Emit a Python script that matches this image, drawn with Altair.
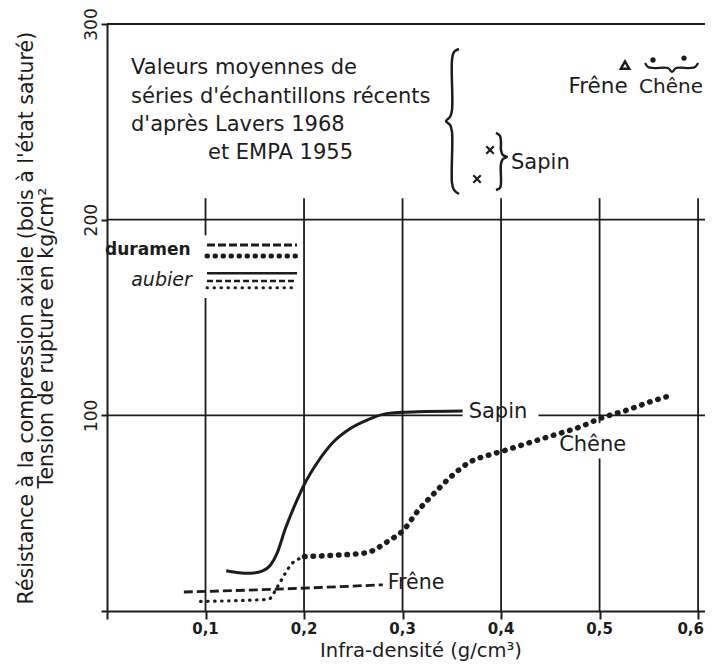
import altair as alt
import pandas as pd

FONT = "DejaVu Sans"
INK = "#1c1c1c"

# ---------------- data ----------------
# Sapin (solid)
sapin_x = [0.121, 0.134, 0.146, 0.158, 0.166, 0.173, 0.181, 0.190, 0.200, 0.213, 0.230, 0.247, 0.264, 0.285, 0.315, 0.361]
sapin_y = [20.6, 19.6, 19.3, 20.5, 23.5, 30.0, 42.0, 53.3, 64.4, 75.5, 86.5, 93.3, 97.6, 101.0, 101.8, 102.2]

# Frene (dashed)
frene_x = [0.078, 0.169, 0.280]
frene_y = [9.7, 11.1, 13.4]

# Chene aubier (small dots)
chene_a_x = [0.095, 0.130, 0.164, 0.173, 0.181, 0.188, 0.196]
chene_a_y = [4.9, 5.3, 6.0, 12.4, 19.3, 24.4, 26.9]

# Chene duramen (big dots)
chene_d_x = [0.2005, 0.230, 0.264, 0.274, 0.2845, 0.301, 0.315, 0.332, 0.349, 0.369, 0.3876,
             0.3995, 0.4266, 0.4536, 0.4807, 0.501, 0.528, 0.5518, 0.5704]
chene_d_y = [27.8, 28.5, 29.8, 32.0, 35.4, 41.4, 50.8, 60.1, 68.6, 76.3, 79.7,
             81.4, 85.7, 89.9, 94.2, 98.5, 102.7, 107.0, 109.9]

# grid segments
hgrid_x1 = [0.0, 0.438, 0.0, 0.0]
hgrid_x2 = [0.361, 0.607, 0.607, 0.607]
hgrid_y = [100, 100, 200, 300]
vgrid_x = [0.1, 0.1, 0.2, 0.3, 0.4, 0.5, 0.5, 0.6]
vgrid_y1 = [0, 192, 0, 0, 0, 0, 96, 0]
vgrid_y2 = [160, 211, 211, 211, 211, 78, 211, 211]

# x tick labels
xtick_text = ["0,1", "0,2", "0,3", "0,4", "0,5"]
xtick_x = [0.1, 0.2, 0.3, 0.4, 0.5]
xtick_last_text, xtick_last_x = ["0,6"], [0.606]
xtick_y = -9.2

# legend (duramen / aubier)
leg_x1, leg_x2 = 0.1015, 0.1929
leg_y = [187.0, 181.4, 172.6, 168.6, 165.2]

# braces (decorations)
brace_big_x = [0.3573, 0.3522, 0.3502, 0.3502, 0.3482, 0.3441, 0.3482, 0.3502, 0.3502, 0.3522, 0.3573]
brace_big_y = [287.2, 285.7, 281.6, 256.0, 252.5, 250.4, 248.4, 244.8, 218.8, 215.2, 213.1]
brace_sap_x = [0.3948, 0.3989, 0.3999, 0.3999, 0.4019, 0.4060, 0.4019, 0.3999, 0.3999, 0.3989, 0.3948]
brace_sap_y = [244.3, 242.8, 239.7, 235.6, 233.0, 232.0, 231.0, 228.4, 218.7, 216.2, 215.2]
brace_ch_x = [0.5461, 0.5492, 0.5552, 0.5695, 0.5735, 0.5776, 0.5918, 0.5969, 0.6000]
brace_ch_y = [280.1, 278.0, 277.5, 277.5, 275.5, 277.5, 277.5, 278.0, 280.1]

cross_x = [0.3888, 0.3756]
cross_y = [235.6, 220.8]
tri_x, tri_y = [0.5258], [279.0]
dot_x, dot_y = [0.5542, 0.5857], [281.6, 282.6]

block_text = ["Valeurs moyennes de", "séries d'échantillons récents", "d'après Lavers 1968", "et EMPA 1955"]
block_x = [0.0244, 0.0244, 0.0244, 0.1025]
block_y = [277.5, 262.6, 248.3, 234.0]

big_labels = ["Sapin", "Chêne", "Frêne"]
big_x = [0.3969, 0.4930, 0.2850]
big_y = [101.7, 84.8, 14.2]

top_labels = ["Frêne", "Chêne", "Sapin"]
top_x = [0.4984, 0.5725, 0.4101]
top_y = [267.8, 267.8, 228.9]

leg_labels = ["duramen", "aubier"]
leg_lx = [0.0848, 0.0860]
leg_ly = [184.5, 169.0]

ytitle_text = ["Résistance à la compression axiale (bois à l'état saturé)", "Tension de rupture en kg/cm²"]
ytitle_x = [-0.0812, -0.0609]
ytitle_y = [149.7, 139.5]
xtitle_text = ["Infra-densité (g/cm³)"]
xtitle_x, xtitle_y = [0.3187], [-20.3]

# ---------------- scales / axes ----------------
xs = alt.Scale(domain=[0, 0.607], nice=False, zero=True)
ys = alt.Scale(domain=[0, 300], nice=False, zero=True)
xaxis = alt.Axis(values=[0, 0.1, 0.2, 0.3, 0.4, 0.5, 0.6], labels=False,
                 title=None, grid=False, domainColor=INK, domainWidth=2, tickColor=INK,
                 tickWidth=2, tickSize=8)
yaxis = alt.Axis(values=[0, 100, 200, 300],
                 labelExpr="datum.value == 0 ? '' : datum.label",
                 title=None, grid=False, domainColor=INK, domainWidth=2, tickColor=INK,
                 tickWidth=2, tickSize=6, labelFont=FONT, labelFontSize=17, labelColor=INK,
                 labelAngle=270, labelAlign="center", labelBaseline="bottom", labelPadding=1,
                 labelFlush=False, labelOverlap=False)


def X(f):
    return alt.X(f, type="quantitative", scale=xs, axis=xaxis)


def Y(f):
    return alt.Y(f, type="quantitative", scale=ys, axis=yaxis)


layers = []

# grid
hg = pd.DataFrame({"x1": hgrid_x1, "x2": hgrid_x2, "y": hgrid_y})
layers.append(alt.Chart(hg).mark_rule(color=INK, strokeWidth=1.8).encode(x=X("x1"), x2="x2", y=Y("y")))
vg = pd.DataFrame({"x": vgrid_x, "y1": vgrid_y1, "y2": vgrid_y2})
layers.append(alt.Chart(vg).mark_rule(color=INK, strokeWidth=1.8).encode(x=X("x"), y=Y("y1"), y2="y2"))


def curve(xv, yv, interp="monotone", **kw):
    df = pd.DataFrame({"x": xv, "y": yv, "i": list(range(len(xv)))})
    return alt.Chart(df).mark_line(color=INK, interpolate=interp, **kw).encode(
        x=X("x"), y=Y("y"), order="i:Q")


layers.append(curve(sapin_x, sapin_y, strokeWidth=3))
layers.append(curve(frene_x, frene_y, strokeWidth=2.8, strokeDash=[9, 4]))
layers.append(curve(chene_a_x, chene_a_y, strokeWidth=3.2, strokeDash=[0.5, 6.5], strokeCap="round"))
layers.append(curve(chene_d_x, chene_d_y, strokeWidth=5.5, strokeDash=[0.5, 8], strokeCap="round"))

# legend lines
leg_styles = [dict(strokeWidth=3, strokeDash=[8, 3]),
              dict(strokeWidth=5, strokeDash=[0.5, 7.5], strokeCap="round"),
              dict(strokeWidth=2.5),
              dict(strokeWidth=2.5, strokeDash=[6, 3]),
              dict(strokeWidth=3, strokeDash=[0.5, 6.5], strokeCap="round")]
for yy, st in zip(leg_y, leg_styles):
    d = pd.DataFrame({"x1": [leg_x1], "x2": [leg_x2], "y": [yy]})
    layers.append(alt.Chart(d).mark_rule(color=INK, **st).encode(x=X("x1"), x2="x2", y=Y("y")))

# braces
layers.append(curve(brace_big_x, brace_big_y, interp="catmull-rom", strokeWidth=2.5))
layers.append(curve(brace_sap_x, brace_sap_y, interp="catmull-rom", strokeWidth=2.5))
layers.append(curve(brace_ch_x, brace_ch_y, interp="catmull-rom", strokeWidth=2.2))

# markers
layers.append(alt.Chart(pd.DataFrame({"x": cross_x, "y": cross_y})).mark_point(
    shape="M-1,-1L1,1M-1,1L1,-1", filled=False, size=55, strokeWidth=2.2, color=INK, opacity=1
).encode(x=X("x"), y=Y("y")))
layers.append(alt.Chart(pd.DataFrame({"x": tri_x, "y": tri_y})).mark_point(
    shape="triangle-up", filled=False, size=70, strokeWidth=2.5, color=INK, opacity=1
).encode(x=X("x"), y=Y("y")))
layers.append(alt.Chart(pd.DataFrame({"x": dot_x, "y": dot_y})).mark_point(
    shape="circle", filled=True, size=28, color=INK, opacity=1
).encode(x=X("x"), y=Y("y")))


def texts(tv, xv, yv, **kw):
    df = pd.DataFrame({"t": tv, "x": xv, "y": yv})
    return alt.Chart(df).mark_text(font=FONT, color=INK, **kw).encode(x=X("x"), y=Y("y"), text="t:N")


layers.append(texts(xtick_text, xtick_x, [xtick_y] * len(xtick_x), fontSize=15, fontWeight="bold",
                    align="center", baseline="middle"))
layers.append(texts(xtick_last_text, xtick_last_x, [xtick_y], fontSize=15, fontWeight="bold",
                    align="right", baseline="middle"))
layers.append(texts(block_text, block_x, block_y, fontSize=21, align="left", baseline="middle"))
layers.append(texts(big_labels[:2], big_x[:2], big_y[:2], fontSize=21, align="center", baseline="middle"))
layers.append(texts(big_labels[2:], big_x[2:], big_y[2:], fontSize=20.5, align="left", baseline="middle"))
layers.append(texts(top_labels[:1], top_x[:1], top_y[:1], fontSize=21.5, align="center", baseline="middle"))
layers.append(texts(top_labels[1:2], top_x[1:2], top_y[1:2], fontSize=20, align="center", baseline="middle"))
layers.append(texts(top_labels[2:], top_x[2:], top_y[2:], fontSize=21, align="left", baseline="middle"))
layers.append(texts(leg_labels[:1], leg_lx[:1], leg_ly[:1], fontSize=17, fontWeight="bold", align="right", baseline="middle"))
layers.append(texts(leg_labels[1:], leg_lx[1:], leg_ly[1:], fontSize=19, fontStyle="italic", align="right", baseline="middle"))
layers.append(texts(ytitle_text, ytitle_x, ytitle_y, fontSize=20.5, angle=270, align="center", baseline="middle"))
layers.append(texts(xtitle_text, xtitle_x, xtitle_y, fontSize=19.5, align="center", baseline="middle"))

chart = alt.layer(*layers).properties(
    width=598, height=587,
    autosize=alt.AutoSizeParams(type="none"),
    padding={"left": 99, "top": 16, "right": 0, "bottom": 51},
    background="white",
).configure_view(stroke=None)

chart.save("out.html", embed_options={"renderer": "svg", "actions": False})
